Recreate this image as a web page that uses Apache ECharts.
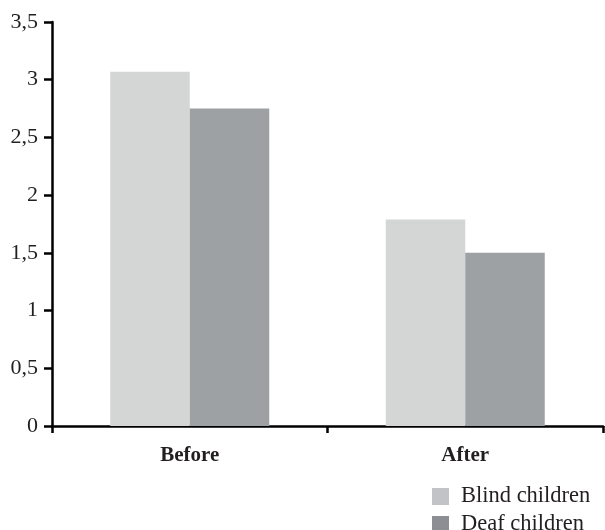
<!DOCTYPE html>
<html>
<head>
<meta charset="utf-8">
<script src="https://cdn.jsdelivr.net/npm/echarts@6/dist/echarts.min.js"></script>
<style>html,body{margin:0;padding:0;background:#fff}#c{width:605px;height:530px}</style>
</head>
<body>
<div id="c"></div>
<script>
const categories = ['Before', 'After'];
const seriesNames = ['Blind children', 'Deaf children'];
const blindValues = [3.07, 1.79];
const deafValues = [2.75, 1.5];
const yTicks = [0, 0.5, 1, 1.5, 2, 2.5, 3, 3.5];

const chart = echarts.init(document.getElementById('c'));
const font = 'Liberation Serif';
chart.setOption({
  animation: false,
  grid: { left: 52, right: 2, top: 22, bottom: 104, containLabel: false },
  legend: {
    orient: 'vertical',
    left: 432, top: 485, width: 170, height: 80,
    padding: 0,
    itemWidth: 17, itemHeight: 17, itemGap: 5,
    icon: 'rect',
    textStyle: { fontFamily: font, fontSize: 22.5, lineHeight: 20, color: '#231f20', padding: [0, 0, 0, 7] },
    data: [
      { name: seriesNames[0], itemStyle: { color: '#c2c3c7' } },
      { name: seriesNames[1], itemStyle: { color: '#8d8e93' } }
    ]
  },
  xAxis: {
    type: 'category',
    data: categories,
    boundaryGap: true,
    axisLine: { lineStyle: { color: '#000', width: 2.5 } },
    axisTick: { show: true, length: 7, lineStyle: { color: '#000', width: 2.5 } },
    axisLabel: { fontFamily: font, fontSize: 21, fontWeight: 'bold', color: '#231f20', margin: 19 }
  },
  yAxis: {
    type: 'value',
    min: yTicks[0], max: yTicks[yTicks.length - 1], interval: 0.5,
    splitLine: { show: false },
    axisLine: { show: true, lineStyle: { color: '#000', width: 2.5 } },
    axisTick: { show: true, length: 8, lineStyle: { color: '#000', width: 2.5 } },
    axisLabel: {
      fontFamily: font, fontSize: 22, color: '#231f20', margin: 14,
      formatter: v => String(v).replace('.', ',')
    }
  },
  series: [
    { name: seriesNames[0], type: 'bar', data: blindValues, barWidth: 79.5, barGap: '0%',
      itemStyle: { color: '#d4d6d5' } },
    { name: seriesNames[1], type: 'bar', data: deafValues, barWidth: 79.5, barGap: '0%',
      itemStyle: { color: '#9da1a4' } }
  ]
});
</script>
</body>
</html>
